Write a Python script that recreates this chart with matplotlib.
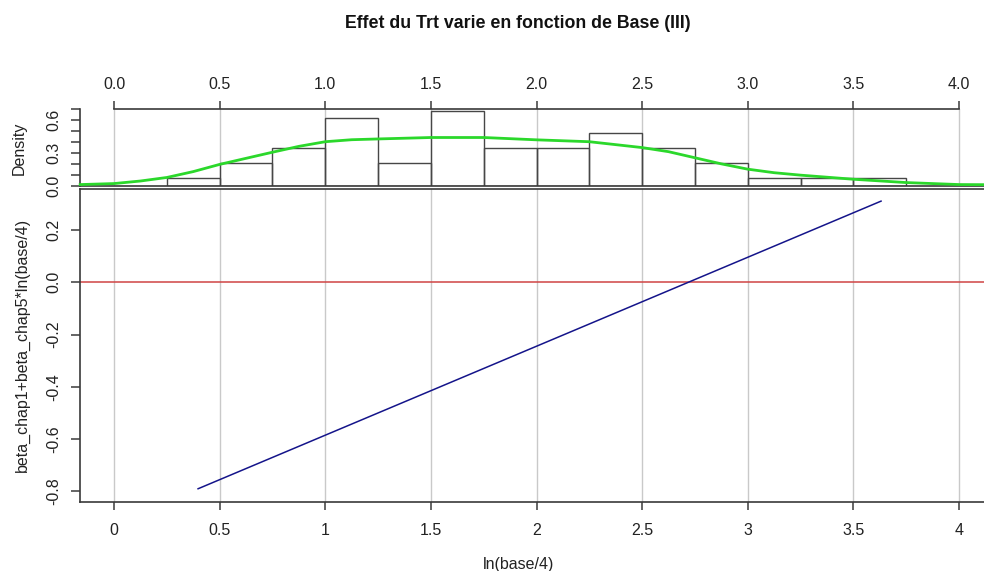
import numpy as np
import matplotlib
matplotlib.use("Agg")
import matplotlib.pyplot as plt

plt.rcParams['font.family'] = ['Liberation Sans', 'DejaVu Sans']

# ---- data ----
bin_edges = [0.25, 0.5, 0.75, 1.0, 1.25, 1.5, 1.75, 2.0, 2.25, 2.5, 2.75, 3.0, 3.25, 3.5, 3.75]
bin_counts = [1, 3, 5, 9, 3, 10, 5, 5, 7, 5, 3, 1, 1, 1]
n_obs = 59

dens_x = [-0.16, 0.0, 0.125, 0.25, 0.375, 0.5, 0.625, 0.75, 0.875, 1.0, 1.125, 1.25, 1.5,
          1.75, 2.0, 2.25, 2.5, 2.625, 2.75, 2.875, 3.0, 3.125, 3.25, 3.5, 3.75, 4.0, 4.12]
dens_y = [0.013, 0.022, 0.045, 0.077, 0.13, 0.195, 0.25, 0.305, 0.358, 0.40, 0.418, 0.425, 0.438,
          0.438, 0.417, 0.40, 0.347, 0.31, 0.255, 0.20, 0.152, 0.12, 0.098, 0.061, 0.031, 0.013, 0.012]

line_x = [0.398, 3.631]
line_y = [-0.791, 0.311]

top_ticks = [0.0, 0.5, 1.0, 1.5, 2.0, 2.5, 3.0, 3.5, 4.0]
top_ticklabels = ["0.0", "0.5", "1.0", "1.5", "2.0", "2.5", "3.0", "3.5", "4.0"]
bottom_ticklabels = ["0", "0.5", "1", "1.5", "2", "2.5", "3", "3.5", "4"]
dens_ticks = [0.0, 0.1, 0.2, 0.3, 0.4, 0.5, 0.6, 0.7]
dens_ticklabels = ["0.0", "", "", "0.3", "", "", "0.6", ""]
main_yticks = [-0.8, -0.6, -0.4, -0.2, 0.0, 0.2]
main_yticklabels = ["-0.8", "-0.6", "-0.4", "-0.2", "0.0", "0.2"]

title = "Effet du Trt varie en fonction de Base (III)"
xlabel = "ln(base/4)"
ylabel_main = "beta_chap1+beta_chap5*ln(base/4)"
ylabel_top = "Density"

# ---- layout ----
W, H = 984, 571
fig = plt.figure(figsize=(W / 100, H / 100), dpi=100)

def fax(left, top, right, bottom):
    return [left / W, 1 - bottom / H, (right - left) / W, (bottom - top) / H]

x_left_px, x0_px, px_per_unit = 80, 114, 211.25
xlim = ((x_left_px - x0_px) / px_per_unit, (W - x0_px) / px_per_unit)

axc = '#3a3a3a'
gridc = '#c9c9c9'
fs = 11.5

# top panel
ax1 = fig.add_axes(fax(80, 108.5, W, 186))
ax1.set_xlim(*xlim)
ax1.set_ylim(0, 0.7)
for t in top_ticks:
    ax1.axvline(t, color=gridc, lw=1, zorder=0)
widths = np.diff(bin_edges)
dens = np.array(bin_counts) / (n_obs * widths)
ax1.bar(bin_edges[:-1], dens, width=widths, align='edge', fill=False,
        edgecolor='#474747', linewidth=1.0, zorder=2)
ax1.plot(dens_x, dens_y, color='#2bd82b', lw=2.0, zorder=3, clip_on=False)
ax1.spines['right'].set_visible(False)
ax1.spines['top'].set_bounds(0, 4)
ax1.spines['left'].set_bounds(0, 0.7)
for s in ['top', 'left', 'bottom']:
    ax1.spines[s].set_color(axc)
    ax1.spines[s].set_linewidth(1.2)
ax1.xaxis.tick_top()
ax1.set_xticks(top_ticks)
ax1.set_xticklabels(top_ticklabels, fontsize=fs)
ax1.set_yticks(dens_ticks)
ax1.set_yticklabels(dens_ticklabels, fontsize=fs, rotation=90, va='center')
ax1.tick_params(axis='x', direction='out', length=6, width=1.1, color=axc, pad=6, labelcolor='#222222')
ax1.tick_params(axis='y', direction='out', length=6.5, width=1.1, color=axc, pad=7, labelcolor='#222222')

# main panel
ax2 = fig.add_axes(fax(80, 189, W, 502))
ax2.set_xlim(*xlim)
ax2.set_ylim(-(502 - 282.3) / 261, (282.3 - 189) / 261)
for t in top_ticks:
    ax2.axvline(t, color=gridc, lw=1, zorder=0)
ax2.axhline(0, color='#d04444', lw=1.1, zorder=1)
ax2.plot(line_x, line_y, color='#14148a', lw=1.1, zorder=3)
ax2.spines['right'].set_visible(False)
for s in ['top', 'left', 'bottom']:
    ax2.spines[s].set_color(axc)
    ax2.spines[s].set_linewidth(1.2)
ax2.set_xticks(top_ticks)
ax2.set_xticklabels(bottom_ticklabels, fontsize=fs)
ax2.set_yticks(main_yticks)
ax2.set_yticklabels(main_yticklabels, fontsize=fs, rotation=90, va='center')
ax2.tick_params(axis='x', direction='out', length=6, width=1.1, color=axc, pad=9, labelcolor='#222222')
ax2.tick_params(axis='y', direction='out', length=6.5, width=1.1, color=axc, pad=7, labelcolor='#222222')

# texts
fig.text(518 / W, 1 - 23 / H, title, ha='center', va='center', fontsize=12.8,
         fontweight='bold', color='#111111')
fig.text(519 / W, 1 - 564 / H, xlabel, ha='center', va='center', fontsize=fs, color='#222222')
fig.text(19 / W, 1 - 148 / H, ylabel_top, ha='center', va='center', rotation=90,
         fontsize=fs, color='#222222')
fig.text(22 / W, 1 - 345 / H, ylabel_main, ha='center', va='center', rotation=90,
         fontsize=fs, color='#222222')

fig.savefig("out.png", dpi=100)
